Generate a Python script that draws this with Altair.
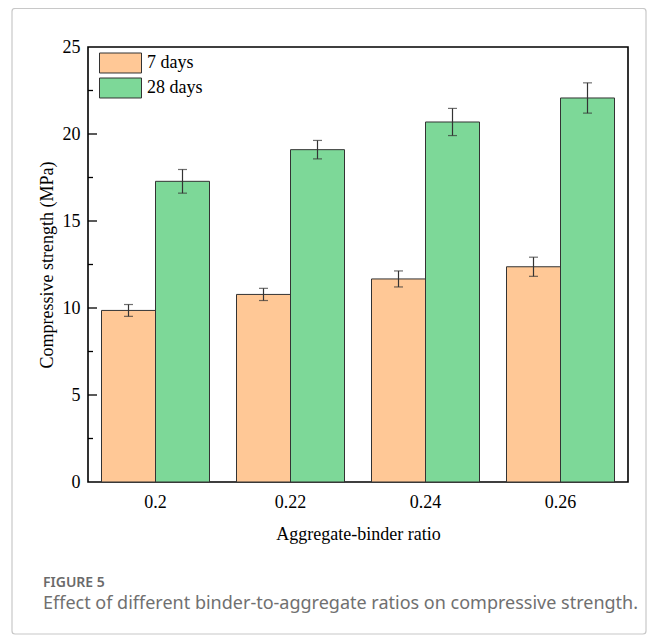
import altair as alt
import pandas as pd

ratios = ["0.2", "0.22", "0.24", "0.26"]
days = ["7 days", "28 days"]
d7 = [9.86, 10.78, 11.67, 12.37]
d7_err = [0.34, 0.35, 0.46, 0.55]
d28 = [17.28, 19.10, 20.69, 22.07]
d28_err = [0.68, 0.53, 0.78, 0.87]
colors = ["#FFC896", "#7DD898"]
major_ticks = [5, 10, 15, 20]
minor_ticks = [2.5, 7.5, 12.5, 17.5, 22.5]
caption_head = "FIGURE 5"
caption_text = "Effect of different binder-to-aggregate ratios on compressive strength."

rows = []
for i, r in enumerate(ratios):
    rows.append({"ratio": r, "age": days[0], "value": d7[i], "lo": d7[i] - d7_err[i], "hi": d7[i] + d7_err[i]})
    rows.append({"ratio": r, "age": days[1], "value": d28[i], "lo": d28[i] - d28_err[i], "hi": d28[i] + d28_err[i]})
df = pd.DataFrame(rows)

serif = "Liberation Serif"

x_enc = alt.X("ratio:N", sort=ratios,
              scale=alt.Scale(paddingInner=0.2, paddingOuter=0.1),
              axis=alt.Axis(title="Aggregate-binder ratio", labelAngle=0, ticks=False, domain=False,
                            labelPadding=11, titlePadding=14, labelFont=serif, labelFontSize=18,
                            titleFont=serif, titleFontSize=18, titleFontWeight="normal",
                            labelColor="black", titleColor="black"))
xo = alt.XOffset("age:N", sort=days, scale=alt.Scale(paddingInner=0, paddingOuter=0))
y_scale = alt.Scale(domain=[0, 25], nice=False)

bars = alt.Chart(df).mark_bar(stroke="#333333", strokeWidth=1).encode(
    x=x_enc,
    xOffset=xo,
    y=alt.Y("value:Q", scale=y_scale,
            axis=alt.Axis(title="Compressive strength (MPa)", values=[0, 5, 10, 15, 20, 25],
                          ticks=False, domain=False, grid=False, labelPadding=8, titlePadding=6,
                          labelFont=serif, labelFontSize=18, titleFont=serif, titleFontSize=18,
                          titleFontWeight="normal", labelColor="black", titleColor="black")),
    color=alt.Color("age:N", sort=days, scale=alt.Scale(domain=days, range=colors),
                    legend=alt.Legend(title=None, orient="none", legendX=21.5, legendY=5,
                                      symbolType="M-2,-0.952L2,-0.952L2,0.952L-2,0.952Z",
                                      symbolSize=441, symbolStrokeColor="#333333",
                                      symbolStrokeWidth=1, symbolOpacity=1,
                                      labelFont=serif, labelFontSize=18, labelColor="black",
                                      labelOffset=15.5, rowPadding=1, padding=0)),
)

err = alt.Chart(df).mark_rule(color="#333333", strokeWidth=1.2).encode(
    x=alt.X("ratio:N", sort=ratios), xOffset=xo,
    y=alt.Y("lo:Q", scale=y_scale), y2="hi:Q")
cap_lo = alt.Chart(df).mark_tick(color="#333333", thickness=1.2, size=9, orient="horizontal").encode(
    x=alt.X("ratio:N", sort=ratios), xOffset=xo, y=alt.Y("lo:Q", scale=y_scale))
cap_hi = alt.Chart(df).mark_tick(color="#333333", thickness=1.2, size=9, orient="horizontal").encode(
    x=alt.X("ratio:N", sort=ratios), xOffset=xo, y=alt.Y("hi:Q", scale=y_scale))

tick_df = pd.DataFrame({"t": major_ticks})
minor_df = pd.DataFrame({"t": minor_ticks})
maj = alt.Chart(tick_df).mark_rule(color="black", strokeWidth=1.3).encode(
    y=alt.Y("t:Q", scale=y_scale), x=alt.value(0), x2=alt.value(9))
mnr = alt.Chart(minor_df).mark_rule(color="black", strokeWidth=1.3).encode(
    y=alt.Y("t:Q", scale=y_scale), x=alt.value(0), x2=alt.value(5))

cap_df = pd.DataFrame({"head": [caption_head], "text": [caption_text]})
frame = alt.Chart(cap_df).mark_rect(fillOpacity=0, stroke="#c8c8c8", strokeWidth=1.2, cornerRadius=3).encode(
    x=alt.value(-76), x2=alt.value(558), y=alt.value(-38.5), y2=alt.value(587))
head = alt.Chart(cap_df).mark_text(align="left", baseline="alphabetic", font="Noto Sans", fontSize=14,
                                   fontWeight=600, color="#6a6a6a").encode(
    text="head:N", x=alt.value(-45), y=alt.value(540))
text = alt.Chart(cap_df).mark_text(align="left", baseline="alphabetic", font="Noto Sans", fontSize=18,
                                   color="#707070").encode(
    text="text:N", x=alt.value(-45), y=alt.value(561.5))

chart = alt.layer(frame, bars, err, cap_lo, cap_hi, maj, mnr, head, text).resolve_scale(
    x="shared").properties(
    width=540, height=435,
    autosize=alt.AutoSizeParams(type="none"),
    padding={"left": 80, "top": 39, "right": 20, "bottom": 153},
).configure_view(stroke="black", strokeWidth=1.6).configure_axis(grid=False)

chart.save("out.html", embed_options={"renderer": "svg", "actions": False})
